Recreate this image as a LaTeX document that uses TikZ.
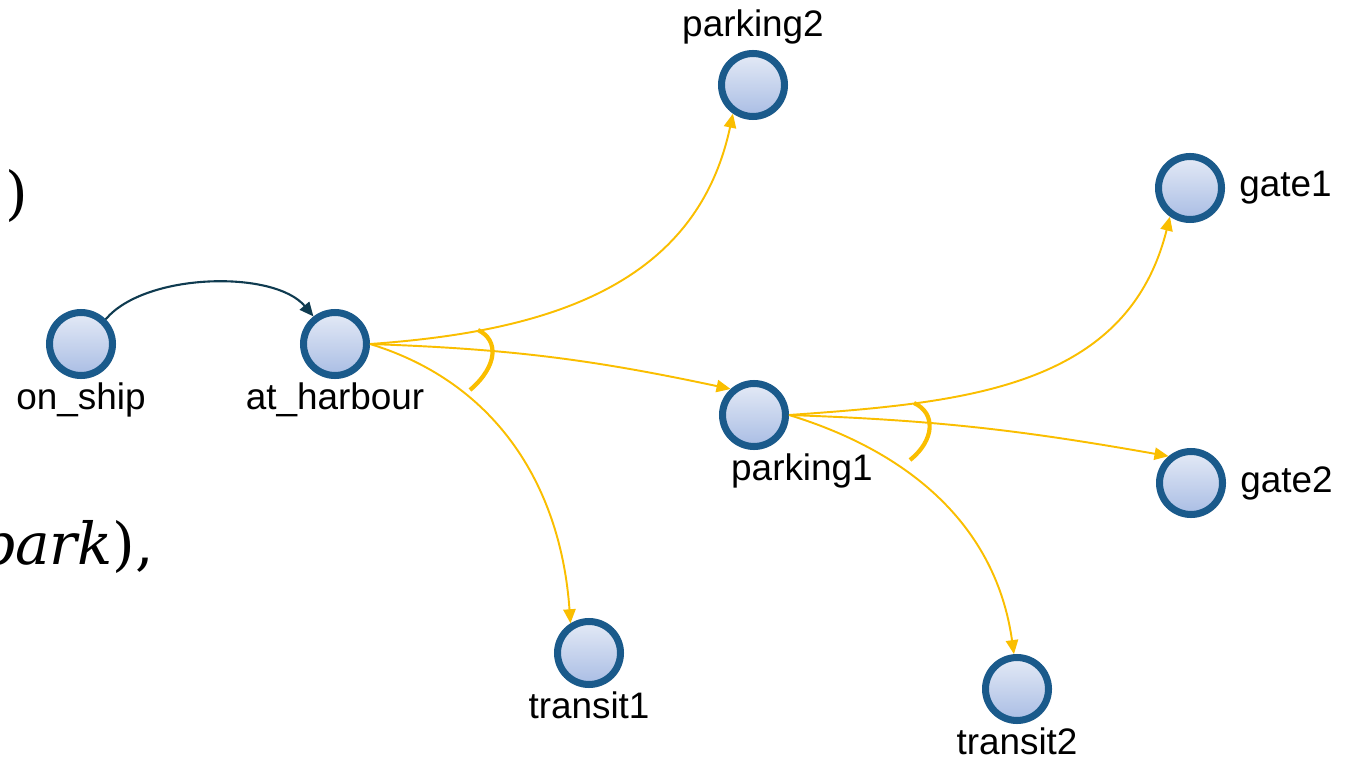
\documentclass[tikz,border=0pt]{standalone}
\usepackage{fontspec}
\setmainfont{Liberation Sans}
\newfontfamily\formulafont{DejaVu Serif}
\usepackage{xcolor}
\usepackage{tikz}
\usetikzlibrary{arrows.meta, shadows, calc}

\definecolor{statering}{HTML}{1A5A8B}
\definecolor{statetop}{HTML}{E4EAF6}
\definecolor{statebot}{HTML}{A9BDE4}
\definecolor{andedge}{HTML}{FABE00}
\definecolor{seqedge}{HTML}{0F3B50}

\begin{document}
\begin{tikzpicture}[
    x=0.02cm, y=0.02cm,
    state/.style={circle, draw=statering, line width=4pt, minimum size=1.26cm, inner sep=0pt,
        top color=statetop, bottom color=statebot,
        drop shadow={opacity=0.25, shadow xshift=1.5pt, shadow yshift=-1.5pt}},
    every label/.style={inner sep=1pt, font=\fontsize{21}{25}\selectfont},
    seq/.style={draw=seqedge, line width=1.2pt, -{Triangle[length=8pt, width=7pt]}},
    andor/.style={draw=andedge, line width=1.1pt, -{Triangle[length=8pt, width=7pt]}},
    andarc/.style={draw=andedge, line width=2.4pt},
    maths/.style={inner sep=0pt, font=\formulafont\fontsize{33}{40}\selectfont}
]
    \useasboundingbox (0,0) rectangle (1352,-760);

    % cut-off formula text at the left edge
    \node[maths, anchor=base east] (parenup) at (28,-214) {)};
    \node[maths, anchor=base east] (parklow) at (154,-564) {\itshape park\upshape),};

    % states
    \node[state, label={[label distance=1pt]below:on\_ship}] (ship) at (81,-344) {};
    \node[state, label={[label distance=1pt]below:at\_harbour}] (harbour) at (335,-344) {};
    \node[state, label={[label distance=2pt]above:parking2}] (park2) at (753,-85) {};
    \node[state, label={[label distance=1pt, xshift=0.96cm]below:parking1}] (park1) at (754,-415) {};
    \node[state, label={[label distance=1pt]below:transit1}] (trans1) at (589,-653) {};
    \node[state, label={[label distance=7pt]right:gate1}] (gate1) at (1190,-188) {};
    \node[state, label={[label distance=7pt]right:gate2}] (gate2) at (1191,-483) {};
    \node[state, label={[label distance=1pt]below:transit2}] (trans2) at (1017,-689) {};

    % sequential move
    \draw[seq] (ship.45) to[out=50, in=130, looseness=0.75] (harbour.128);

    % branches from the harbour
    \draw[andor] (harbour.east) to[out=4, in=-102, looseness=1.05] (park2.235);
    \draw[andor] (harbour.east) to[out=-2, in=168] (park1.132);
    \draw[andor] (harbour.east) to[out=-17, in=94] (trans1.122);
    \draw[andarc] (478,-330) .. controls (499,-340) and (498,-366) .. (470,-390);

    % branches from parking1
    \draw[andor] (park1.east) to[out=4, in=-104, looseness=1.05] (gate1.235);
    \draw[andor] (park1.east) to[out=-2, in=170] (gate2.130);
    \draw[andor] (park1.east) to[out=-17, in=98] (trans2.95);
    \draw[andarc] (914,-403) .. controls (936,-413) and (935,-440) .. (910,-460);
\end{tikzpicture}
\end{document}
